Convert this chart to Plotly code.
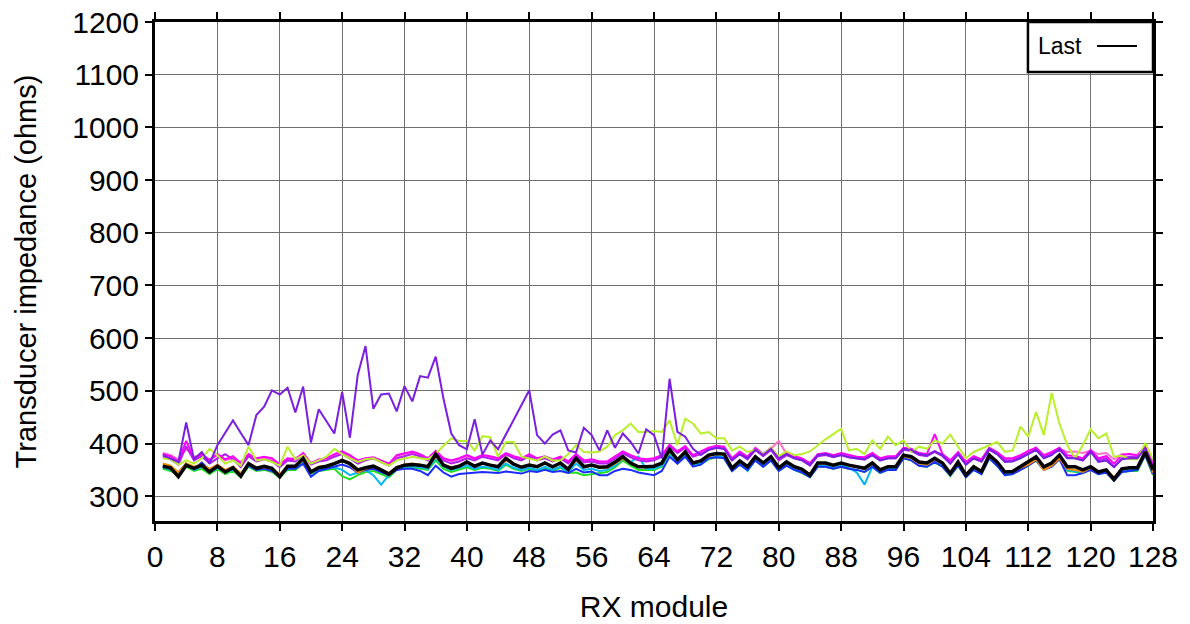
import plotly.graph_objects as go

modules = list(range(1, 129))

last = [357,354,337,359,353,359,346,357,346,354,
        338,362,353,357,353,337,357,357,372,346,
        354,357,362,368,362,350,354,357,350,342,
        354,359,360,359,356,380,359,353,357,365,
        357,363,359,356,372,361,355,359,356,363,
        356,363,351,372,356,359,355,356,365,375,
        363,356,356,357,363,389,369,384,363,367,
        378,381,380,353,367,356,375,363,375,354,
        365,356,351,340,363,363,359,363,359,356,
        353,363,350,356,356,378,375,365,363,372,
        363,343,365,340,356,347,378,365,346,347,
        356,365,375,356,363,378,356,356,350,356,
        346,350,332,352,354,354,384,350]

purple = [378,372,365,440,370,384,362,397,420,444,
          420,397,454,470,501,493,506,459,508,402,
          465,441,419,498,411,530,585,466,493,495,
          461,509,480,528,525,565,485,419,397,389,
          446,379,406,389,417,445,473,501,416,400,
          417,425,387,383,430,416,387,425,392,419,
          403,381,427,416,372,523,422,413,390,378,
          388,392,390,368,380,372,388,378,390,372,
          380,372,368,360,378,380,375,378,374,372,
          370,378,368,372,372,390,388,380,378,385,
          378,362,380,360,372,366,390,380,365,366,
          372,380,388,372,378,390,372,372,368,385,
          365,368,355,370,372,372,392,355]

yellowgreen = [372,370,360,368,362,372,390,378,362,368,
               358,394,368,370,365,358,394,370,378,362,
               368,375,390,380,372,365,370,372,365,358,
               368,372,375,372,370,381,395,410,405,405,
               387,414,412,375,403,403,375,372,368,375,
               368,368,380,397,384,383,385,394,416,425,
               438,422,422,424,422,444,397,447,438,419,
               422,410,410,387,394,384,388,380,392,376,
               385,378,380,385,397,408,418,428,387,390,
               380,406,390,413,397,406,384,394,390,406,
               400,417,394,372,384,390,397,403,384,387,
               432,413,460,416,496,438,397,372,397,427,
               410,419,375,377,370,370,401,370]

magenta = [380,376,366,405,372,380,368,380,370,376,
           362,380,372,375,372,360,372,370,382,362,
           370,372,380,385,378,368,372,374,368,362,
           378,382,385,380,372,386,372,368,372,378,
           372,378,376,372,382,376,372,380,372,376,
           370,375,366,380,368,370,366,366,375,385,
           378,372,370,372,378,398,385,395,378,385,
           392,396,394,372,385,375,392,380,392,372,
           382,376,372,362,380,382,378,382,378,375,
           374,382,372,376,376,392,390,382,380,418,
           380,368,384,365,376,370,392,384,372,372,
           378,386,392,378,384,392,378,376,372,388,
           372,376,362,378,380,378,395,362]

violet = [375,370,360,395,368,376,362,372,380,370,
          355,376,366,370,366,355,368,366,380,360,
          366,368,375,380,372,362,368,372,365,358,
          372,376,380,376,368,384,368,362,366,372,
          368,375,372,368,380,372,368,376,368,372,
          366,372,362,378,364,366,362,362,372,382,
          374,368,366,368,375,395,382,392,375,380,
          388,392,390,368,380,370,388,376,388,368,
          378,372,368,358,376,378,374,378,374,372,
          370,378,368,372,372,388,386,378,376,384,
          376,362,380,360,372,366,388,380,368,368,
          375,382,388,374,380,388,374,372,368,384,
          368,372,356,372,375,374,390,358]

pink = [382,378,370,390,375,378,370,378,368,372,
        365,378,370,372,368,362,370,372,378,364,
        368,372,378,382,375,366,370,372,366,360,
        375,380,382,378,370,382,370,366,370,376,
        370,376,374,370,378,374,370,378,370,374,
        368,372,364,376,366,368,364,364,372,380,
        376,370,368,370,376,394,384,392,376,382,
        390,394,392,370,382,374,390,378,390,405,
        380,374,370,364,378,380,376,380,376,374,
        372,380,370,374,374,390,388,380,378,386,
        378,366,382,362,374,368,390,382,370,370,
        376,384,390,376,382,390,384,385,382,386,
        380,382,370,380,380,376,392,360]

orange = [362,358,345,362,356,360,352,360,350,356,
          344,362,354,355,352,342,356,358,368,348,
          356,358,362,368,360,345,352,356,350,344,
          356,360,362,360,356,375,360,355,358,364,
          358,362,360,357,368,360,356,360,357,362,
          356,362,352,368,356,358,354,354,362,372,
          362,356,355,356,362,385,370,382,364,368,
          376,380,378,355,366,357,374,364,374,355,
          364,357,352,342,362,362,358,362,358,356,
          354,362,350,356,356,376,372,362,360,370,
          362,345,364,342,356,348,376,364,346,346,
          354,360,370,350,358,372,352,350,346,354,
          346,350,336,352,354,354,382,345]

blue = [358,352,345,362,352,364,350,356,348,352,
        340,358,350,352,348,338,352,352,362,337,
        348,352,356,360,355,345,350,352,346,340,
        350,352,352,348,340,358,345,337,342,343,
        345,346,345,344,347,345,343,348,346,350,
        346,348,344,352,345,347,340,340,348,352,
        350,345,342,340,348,375,362,375,356,360,
        372,374,372,348,360,350,368,356,368,348,
        358,350,345,336,356,356,352,356,352,350,
        346,356,345,350,350,372,368,358,356,365,
        356,340,358,336,350,342,372,358,340,342,
        350,358,368,350,356,370,340,340,344,350,
        342,345,330,346,348,350,378,342]

cyan = [355,350,342,358,350,356,345,354,345,350,
        340,358,350,354,350,338,354,354,366,345,
        350,352,355,350,340,345,350,340,322,340,
        352,356,357,355,352,372,356,350,354,358,
        352,356,354,350,362,354,350,354,350,356,
        350,356,346,362,350,352,348,350,358,372,
        365,375,352,352,358,382,365,378,360,362,
        372,376,375,350,362,348,370,358,370,350,
        360,352,346,338,358,358,354,358,354,345,
        322,356,346,352,352,374,370,360,358,366,
        358,340,360,338,352,344,374,360,342,344,
        352,360,370,352,358,372,350,348,345,352,
        343,346,330,348,350,350,380,345]

green = [352,348,340,356,348,352,342,352,342,348,
         336,356,348,350,346,335,350,350,362,342,
         348,350,352,338,332,340,346,348,342,336,
         350,354,355,352,350,368,352,346,350,355,
         350,354,352,348,360,352,348,352,348,354,
         348,354,344,345,340,342,344,346,355,368,
         358,350,350,350,356,380,362,376,358,360,
         370,374,372,348,360,350,368,356,368,348,
         358,350,344,336,356,356,352,356,352,350,
         346,356,344,350,350,372,368,358,356,364,
         356,338,358,336,350,342,372,358,340,342,
         350,358,368,350,356,370,348,346,344,350,
         342,345,330,346,348,348,378,340]

series = [
    ("green", green, "#20e020"),
    ("cyan", cyan, "#00b8f0"),
    ("blue", blue, "#1a2cff"),
    ("orange", orange, "#ff8c00"),
    ("pink", pink, "#ff70c8"),
    ("violet", violet, "#b020f0"),
    ("magenta", magenta, "#ff00ff"),
    ("yellowgreen", yellowgreen, "#b8f02a"),
    ("purple", purple, "#7a1fe0"),
]

x_ticks = list(range(0, 129, 8))
y_ticks = list(range(300, 1201, 100))

fig = go.Figure()
for name, vals, col in series:
    fig.add_trace(go.Scatter(x=modules, y=vals, mode="lines", name=name,
                             line=dict(color=col, width=2), showlegend=False))
fig.add_trace(go.Scatter(x=modules, y=last, mode="lines", name="Last",
                         line=dict(color="black", width=3.5), showlegend=False))

font_family = "Liberation Sans, Arial, Helvetica, sans-serif"

fig.update_layout(
    width=1190, height=624,
    margin=dict(l=155, r=37, t=22, b=103),
    paper_bgcolor="white", plot_bgcolor="white",
    font=dict(family=font_family, color="black", size=30),
    showlegend=False,
)
fig.update_xaxes(
    range=[0, 128], tickvals=x_ticks, ticktext=[str(v) for v in x_ticks],
    showgrid=True, gridcolor="#707070", gridwidth=1.2,
    showline=True, linecolor="black", linewidth=3, mirror="ticks",
    ticks="outside", ticklen=7, tickwidth=1.5, tickcolor="black",
    tickfont=dict(size=30), zeroline=False, automargin=False,
    title=dict(text="RX module", font=dict(size=30), standoff=24),
)
fig.update_yaxes(
    range=[253, 1200], tickvals=y_ticks, ticktext=[str(v) for v in y_ticks],
    showgrid=True, gridcolor="#707070", gridwidth=1.2,
    showline=True, linecolor="black", linewidth=3, mirror="ticks",
    ticks="outside", ticklen=7, tickwidth=1.5, tickcolor="black",
    tickfont=dict(size=30), zeroline=False, automargin=False,
    title=dict(text="Transducer impedance (ohms)", font=dict(size=29), standoff=28),
)

# GMT-style legend box: text then line sample
fig.add_shape(type="rect", xref="paper", yref="paper", x0=0.8747, x1=1.0, y0=0.9, y1=1.0,
              line=dict(color="black", width=2.5), fillcolor="white", layer="above")
fig.add_shape(type="line", xref="paper", yref="paper", x0=0.944, x1=0.984, y0=0.952, y1=0.952,
              line=dict(color="black", width=2), layer="above")
fig.add_annotation(xref="paper", yref="paper", x=0.8825, y=0.952, text="Last",
                   showarrow=False, xanchor="left", yanchor="middle",
                   font=dict(size=23, color="black"))

fig.write_html("out.html")
